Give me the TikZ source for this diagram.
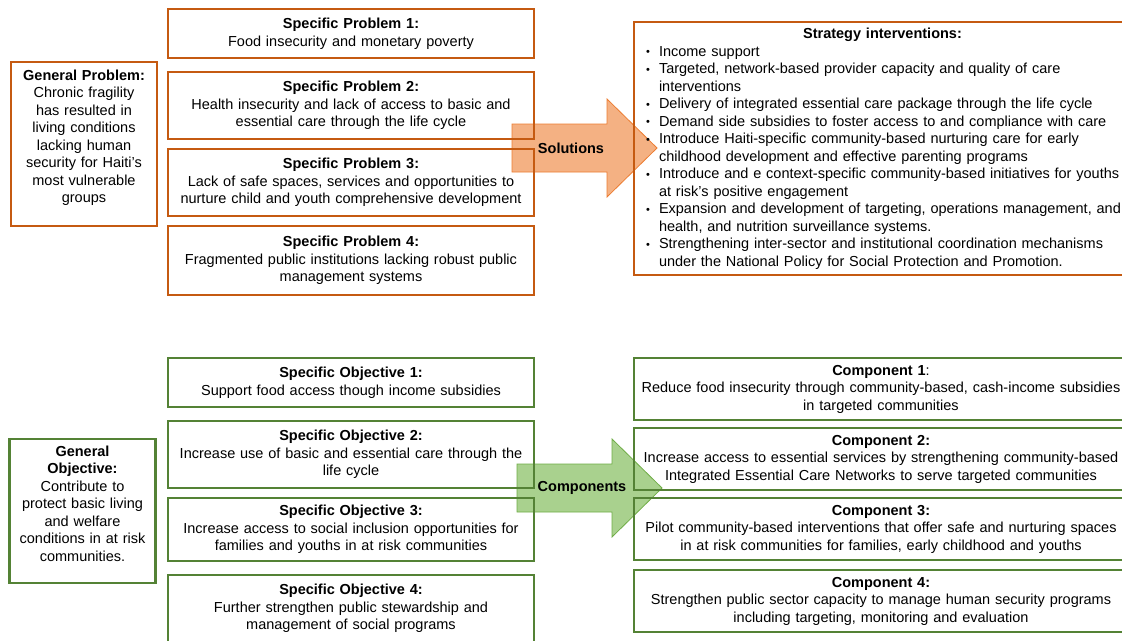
\documentclass[tikz,border=0pt]{standalone}
\usepackage{fontspec}
\setmainfont{Liberation Sans}
\usepackage{tikz}
\usetikzlibrary{positioning}
\usepackage{xcolor}

\definecolor{probline}{HTML}{C55A11}
\definecolor{probfill}{HTML}{F4B183}
\definecolor{probedge}{HTML}{ED7D31}
\definecolor{objline}{HTML}{548235}
\definecolor{objfill}{HTML}{A9D18E}
\definecolor{objedge}{HTML}{70AD47}

\newcommand{\bitem}{\par\hangindent=13pt\hangafter=1\noindent
  \makebox[13pt][l]{\raisebox{0.5pt}{\fontsize{11}{11}\selectfont\textbullet}}}

\begin{document}
\begin{tikzpicture}[
      x=1pt,y=-1pt,
      prob/.style={draw=probline,line width=2.2pt,outer sep=0pt,align=center,
                   text width=356pt,inner xsep=5pt,inner ysep=2pt,
                   font=\fontsize{14.5}{17.5}\selectfont},
      obj/.style={prob,draw=objline},
      gen/.style={text width=136pt},
      comp/.style={obj,text width=484pt,anchor=north west},
      strat/.style={prob,align=left,text width=485pt,inner xsep=12pt,
                    minimum height=253pt,anchor=north west},
      sarr/.style={fill=probfill,draw=probedge,line width=0.8pt},
      carr/.style={fill=objfill,draw=objedge,line width=0.8pt},
      lbl/.style={font=\fontsize{14.5}{17.5}\selectfont\bfseries},
    ]
    \fill[white] (0,0) rectangle (1122,640);
    \useasboundingbox (0,0) rectangle (1122,640);
    \clip (0,0) rectangle (1122,640);

    % block arrows (under the boxes)
    \draw[sarr] (512,124) -- (607,124) -- (607,99) -- (657,148) -- (607,197)
          -- (607,172) -- (512,172) -- cycle;
    \draw[carr] (517,464) -- (612,464) -- (612,439) -- (662,488) -- (612,537)
          -- (612,512) -- (517,512) -- cycle;

    % problems
    \node[prob,gen,minimum height=164pt] (gp) at (84,144)
          {\textbf{General Problem:}\\Chronic fragility\\has resulted in\\living conditions\\
           lacking human\\security for Haiti's\\most vulnerable\\groups\\[-2pt]\mbox{}};
    \node[prob,minimum height=49pt,anchor=north] (sp1) at (351,9)
          {\textbf{Specific Problem 1:}\\Food insecurity and monetary poverty};
    \node[prob,minimum height=67pt,below=14pt of sp1] (sp2)
          {\textbf{Specific Problem 2:}\\Health insecurity and lack of access to basic and\\
           essential care through the life cycle};
    \node[prob,minimum height=67pt,below=10pt of sp2] (sp3)
          {\textbf{Specific Problem 3:}\\Lack of safe spaces, services and opportunities to\\
           nurture child and youth comprehensive development};
    \node[prob,minimum height=69pt,below=10pt of sp3] (sp4)
          {\textbf{Specific Problem 4:}\\Fragmented public institutions lacking robust public\\
           management systems};

    % strategy interventions
    \node[strat] (strat) at (634,22) {%
      {\centering\bfseries\hspace*{-12pt}Strategy interventions:\par}
      \bitem Income support
      \bitem Targeted, network-based provider capacity and quality of care\newline interventions
      \bitem Delivery of integrated essential care package through the life cycle
      \bitem Demand side subsidies to foster access to and compliance with care
      \bitem Introduce Haiti-specific community-based nurturing care for early\newline
             childhood development and effective parenting programs
      \bitem Introduce and e context-specific community-based initiatives for youths\newline
             at risk's positive engagement
      \bitem Expansion and development of targeting, operations management, and\newline
             health, and nutrition surveillance systems.
      \bitem Strengthening inter-sector and institutional coordination mechanisms\newline
             under the National Policy for Social Protection and Promotion.\par};

    % objectives
    \node[obj,gen,minimum height=144pt] (go) at (82.5,511)
          {\textbf{General}\\\textbf{Objective:}\\Contribute to\\protect basic living\\
           and welfare\\conditions in at risk\\communities.\\[-2pt]\mbox{}};
    \node[obj,minimum height=49pt,anchor=north] (so1) at (351,358)
          {\textbf{Specific Objective 1:}\\Support food access though income subsidies};
    \node[obj,minimum height=67pt,below=14pt of so1] (so2)
          {\textbf{Specific Objective 2:}\\Increase use of basic and essential care through the\\
           life cycle};
    \node[obj,minimum height=63pt,below=10pt of so2] (so3)
          {\textbf{Specific Objective 3:}\\Increase access to social inclusion opportunities for\\
           families and youths in at risk communities};
    \node[obj,minimum height=67pt,below=14pt of so3] (so4)
          {\textbf{Specific Objective 4:}\\Further strengthen public stewardship and\\
           management of social programs};

    % components
    \node[comp,minimum height=62pt] (c1) at (634,358)
          {\textbf{Component 1}:\\Reduce food insecurity through community-based, cash-income subsidies\\
           in targeted communities};
    \node[comp,minimum height=62pt,below=8pt of c1] (c2)
          {\textbf{Component 2:}\\Increase access to essential services by strengthening community-based\\
           Integrated Essential Care Networks to serve targeted communities};
    \node[comp,minimum height=62pt,below=8pt of c2] (c3)
          {\textbf{Component 3:}\\Pilot community-based interventions that offer safe and nurturing spaces\\
           in at risk communities for families, early childhood and youths};
    \node[comp,minimum height=62pt,below=10pt of c3] (c4)
          {\textbf{Component 4:}\\Strengthen public sector capacity to manage human security programs\\
           including targeting, monitoring and evaluation};

    % arrow labels
    \node[lbl] (sol) at (571,148) {Solutions};
    \node[lbl] (cmp) at (582,488) {Components};
  \end{tikzpicture}
\end{document}
